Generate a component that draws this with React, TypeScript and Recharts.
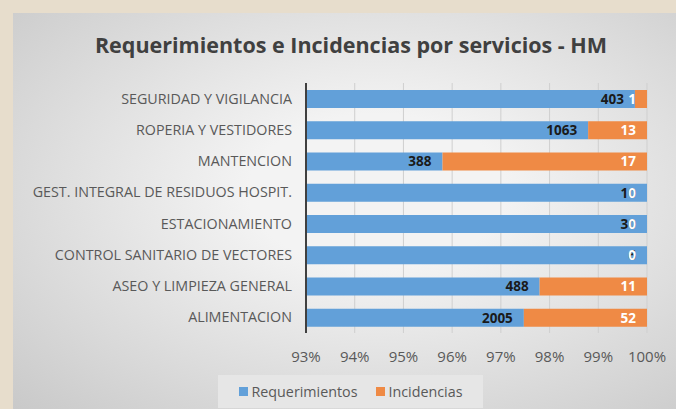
import { BarChart, Bar, XAxis, YAxis, CartesianGrid, LabelList } from 'recharts';

const categorias = [
  'SEGURIDAD Y VIGILANCIA',
  'ROPERIA Y VESTIDORES',
  'MANTENCION',
  'GEST. INTEGRAL DE RESIDUOS HOSPIT.',
  'ESTACIONAMIENTO',
  'CONTROL SANITARIO DE VECTORES',
  'ASEO Y LIMPIEZA GENERAL',
  'ALIMENTACION',
];
const requerimientos = [403, 1063, 388, 10, 30, 6, 488, 2005];
const incidencias = [1, 13, 17, 0, 0, 0, 11, 52];
const ticks = [0.93, 0.94, 0.95, 0.96, 0.97, 0.98, 0.99, 1];

// 100% apilado: se calcula la proporción de cada serie
const data = categorias.map((name, i) => {
  const total = requerimientos[i] + incidencias[i];
  return {
    name,
    req: requerimientos[i],
    inc: incidencias[i],
    reqPct: requerimientos[i] / total,
    incPct: incidencias[i] / total,
  };
});

const FONT = '"Open Sans", sans-serif';
const BLUE = '#62a0d9';
const ORANGE = '#ef8a45';

const CategoryTick = ({ x, y, payload }: any) => (
  <text x={x} y={y} dy={5} textAnchor="end" fill="#595959" fontSize={14.3} fontFamily={FONT}>
    {payload.value}
  </text>
);

// las incidencias en cero no tienen barra, pero Excel igual dibuja su etiqueta
const ZeroIncLabel = (props: any) => {
  const { x, y, width, height, value } = props;
  if (value !== 0) return null;
  return (
    <text x={x + width - 11} y={y + height / 2} dy={5} textAnchor="end" fill="#ffffff" fontSize={13.5} fontWeight={700} fontFamily={FONT}>
      0
    </text>
  );
};

export default function App() {
  return (
    <div style={{ position: 'fixed', left: 0, top: 0, width: 676, height: 409, background: '#e7ddcc', overflow: 'hidden' }}>
      <div
        style={{
          position: 'absolute',
          left: 13,
          top: 13,
          width: 663,
          height: 396,
          background: 'radial-gradient(ellipse at 55% 45%, #f3f3f3 25%, #c9c9c9 100%)',
          fontFamily: FONT,
        }}
      >
        <div
          style={{
            position: 'absolute',
            left: 0,
            top: 17,
            width: 676,
            textAlign: 'center',
            fontSize: 21.5,
            fontWeight: 700,
            color: '#404040',
          }}
        >
          Requerimientos e Incidencias por servicios - HM
        </div>
        <BarChart
          width={663}
          height={396}
          data={data}
          layout="vertical"
          margin={{ top: 70, right: 29, bottom: 46, left: 0 }}
        >
          <CartesianGrid horizontal={false} stroke="#cfcfcf" />
          <XAxis
            type="number"
            domain={[0.93, 1]}
            allowDataOverflow
            ticks={ticks}
            interval={0}
            tickFormatter={(v: number) => `${Math.round(v * 100)}%`}
            axisLine={false}
            tickLine={false}
            tickMargin={12}
            tick={{ fill: '#595959', fontSize: 15, fontFamily: FONT }}
          />
          <YAxis
            type="category"
            dataKey="name"
            width={293}
            axisLine={{ stroke: '#404040', strokeWidth: 2 }}
            tickLine={false}
            tickSize={0}
            tickMargin={14}
            tick={<CategoryTick />}
          />
          <Bar dataKey="reqPct" name="Requerimientos" stackId="a" fill={BLUE} barSize={18} isAnimationActive={false}>
            <LabelList dataKey="req" position="insideRight" offset={11} fill="#1a1a1a" fontSize={13.5} fontWeight={700} fontFamily={FONT} />
            <LabelList dataKey="inc" content={<ZeroIncLabel />} />
          </Bar>
          <Bar dataKey="incPct" name="Incidencias" stackId="a" fill={ORANGE} barSize={18} isAnimationActive={false}>
            <LabelList dataKey="inc" position="insideRight" offset={11} fill="#ffffff" fontSize={13.5} fontWeight={700} fontFamily={FONT} />
          </Bar>
        </BarChart>
        <div
          style={{
            position: 'absolute',
            left: 205,
            top: 362,
            width: 265,
            height: 33,
            background: '#e6e6e6',
            display: 'flex',
            alignItems: 'center',
            justifyContent: 'center',
            gap: 18,
            fontSize: 14.3,
            color: '#595959',
          }}
        >
          <span style={{ display: 'flex', alignItems: 'center' }}>
            <span style={{ width: 9, height: 9, background: BLUE, marginRight: 4 }} />
            Requerimientos
          </span>
          <span style={{ display: 'flex', alignItems: 'center' }}>
            <span style={{ width: 9, height: 9, background: ORANGE, marginRight: 4 }} />
            Incidencias
          </span>
        </div>
      </div>
    </div>
  );
}
